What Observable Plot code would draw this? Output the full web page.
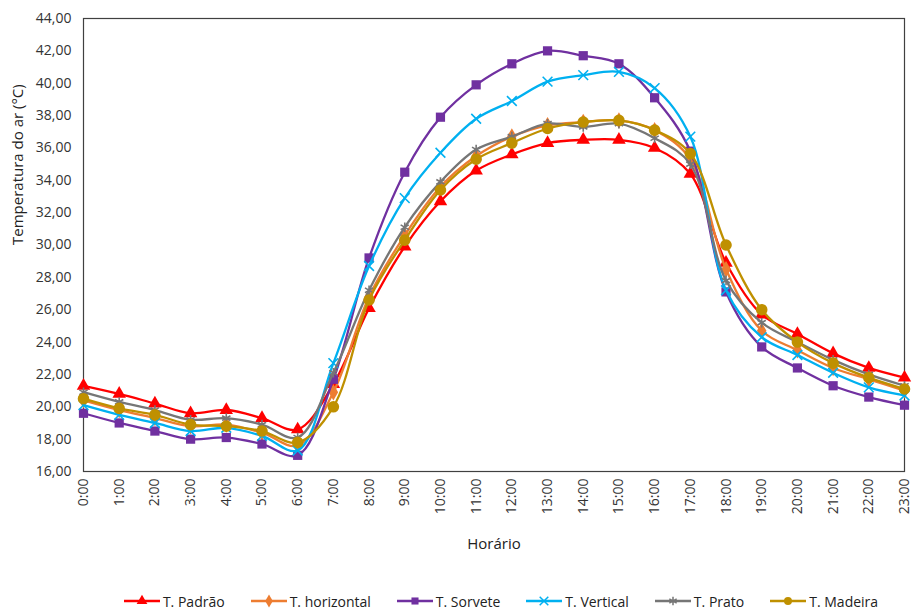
<!DOCTYPE html>
<html>
<head>
<meta charset="utf-8">
<script src="https://cdn.jsdelivr.net/npm/d3@7"></script>
<script src="https://cdn.jsdelivr.net/npm/@observablehq/plot@0.6"></script>
<style>
  html, body { margin: 0; padding: 0; background: #fff; }
  body { width: 912px; height: 610px; overflow: hidden; font-family: "Open Sans", sans-serif; }
  #legend { box-sizing: border-box; display: flex; justify-content: center; align-items: center; gap: 26px; height: 30px; padding-top: 12px; padding-left: 90px; font-size: 14px; color: #222; }
  .item { display: flex; align-items: center; white-space: nowrap; }
  .item svg { margin-right: 3px; }
</style>
</head>
<body>
<div id="chart"></div>
<div id="legend"></div>
<script>
const hours = [0,1,2,3,4,5,6,7,8,9,10,11,12,13,14,15,16,17,18,19,20,21,22,23];
const hourLabels = ["0:00","1:00","2:00","3:00","4:00","5:00","6:00","7:00","8:00","9:00","10:00","11:00","12:00","13:00","14:00","15:00","16:00","17:00","18:00","19:00","20:00","21:00","22:00","23:00"];
const yTicks = [16,18,20,22,24,26,28,30,32,34,36,38,40,42,44];
const yTitle = "Temperatura do ar (°C)";
const xTitle = "Horário";

const padrao     = [21.3,20.8,20.2,19.6,19.8,19.3,18.6,21.4,26.1,29.9,32.7,34.6,35.6,36.3,36.5,36.5,36.0,34.4,28.9,25.7,24.5,23.3,22.4,21.8];
const horizontal = [20.4,19.8,19.3,18.8,18.9,18.4,17.6,20.9,26.8,30.6,33.6,35.5,36.7,37.4,37.6,37.7,37.1,35.3,28.5,24.7,23.5,22.4,21.7,21.0];
const sorvete    = [19.6,19.0,18.5,18.0,18.1,17.7,17.0,21.7,29.2,34.5,37.9,39.9,41.2,42.0,41.7,41.2,39.1,35.8,27.1,23.7,22.4,21.3,20.6,20.1];
const vertical   = [20.1,19.5,19.0,18.5,18.7,18.2,17.3,22.7,28.7,32.9,35.7,37.8,38.9,40.1,40.5,40.7,39.7,36.7,27.2,24.3,23.2,22.1,21.2,20.7];
const prato      = [20.9,20.3,19.8,19.2,19.3,18.9,18.1,22.1,27.2,31.1,33.9,35.9,36.7,37.5,37.3,37.5,36.6,35.0,27.8,25.2,24.0,22.9,22.0,21.3];
const madeira    = [20.5,19.9,19.5,18.9,18.8,18.5,17.8,20.0,26.6,30.3,33.4,35.3,36.3,37.2,37.6,37.7,37.1,35.65,30.0,26.0,24.0,22.7,21.8,21.1];

const seriesNames = ["T. Padrão","T. horizontal","T. Sorvete","T. Vertical","T. Prato","T. Madeira"];
const seriesValues = [padrao, horizontal, sorvete, vertical, prato, madeira];
const seriesColors = ["#FF0000","#ED7D31","#7030A0","#00B0F0","#767676","#BF9000"];
const seriesSymbols = ["triangle","diamond","square","times","asterisk","circle"];
const seriesR = [5, 5, 5.2, 4.5, 4.5, 5.8];

const fmt = v => v.toFixed(2).replace(".", ",");

const marks = [
  Plot.frame({stroke: "#404040", strokeWidth: 1.2}),
  Plot.axisY({ticks: yTicks, tickSize: 0, tickPadding: 12, tickFormat: fmt, label: null, fontSize: 14}),
  Plot.axisX({ticks: hours, tickSize: 0, tickPadding: 7, tickRotate: -90,
    tickFormat: h => hourLabels[h], label: null, fontSize: 14}),
  Plot.text([yTitle], {frameAnchor: "left", rotate: -90, dx: -65, text: d => d, fontSize: 15, fill: "#222"}),
  Plot.text([xTitle], {frameAnchor: "bottom", dy: 77, text: d => d, fontSize: 15, fill: "#222"})
];

seriesNames.forEach((name, i) => {
  const rows = hours.map((h, j) => ({h, v: seriesValues[i][j], serie: name}));
  marks.push(Plot.line(rows, {x: "h", y: "v", stroke: seriesColors[i], strokeWidth: 2.3, curve: "catmull-rom"}));
  const stroked = seriesSymbols[i] === "times" || seriesSymbols[i] === "asterisk";
  marks.push(Plot.dot(rows, {x: "h", y: "v", symbol: () => seriesSymbols[i], r: seriesR[i],
    fill: stroked ? "none" : seriesColors[i],
    stroke: stroked ? seriesColors[i] : "none",
    strokeWidth: stroked ? 1.6 : 0}));
});

const chart = Plot.plot({
  width: 912, height: 580,
  marginLeft: 83, marginRight: 8, marginTop: 18, marginBottom: 109,
  x: {domain: [0, 23]},
  y: {domain: [16, 44]},
  style: {fontFamily: "Open Sans, sans-serif", fontSize: "14px", color: "#333", background: "#fff"},
  marks
});
document.getElementById("chart").appendChild(chart);

// legend
const legend = d3.select("#legend");
const symMap = {triangle: d3.symbolTriangle, diamond: d3.symbolDiamond, square: d3.symbolSquare,
  times: d3.symbolTimes, asterisk: d3.symbolAsterisk, circle: d3.symbolCircle};
seriesNames.forEach((name, i) => {
  const item = legend.append("div").attr("class", "item");
  const svg = item.append("svg").attr("width", 36).attr("height", 14);
  svg.append("line").attr("x1", 0).attr("x2", 36).attr("y1", 7).attr("y2", 7)
    .attr("stroke", seriesColors[i]).attr("stroke-width", 2.3);
  const stroked = seriesSymbols[i] === "times" || seriesSymbols[i] === "asterisk";
  svg.append("path").attr("transform", "translate(18,7)")
    .attr("d", d3.symbol(symMap[seriesSymbols[i]], 50)())
    .attr("fill", stroked ? "none" : seriesColors[i])
    .attr("stroke", stroked ? seriesColors[i] : "none")
    .attr("stroke-width", 1.5);
  item.append("span").text(name);
});
</script>
</body>
</html>
